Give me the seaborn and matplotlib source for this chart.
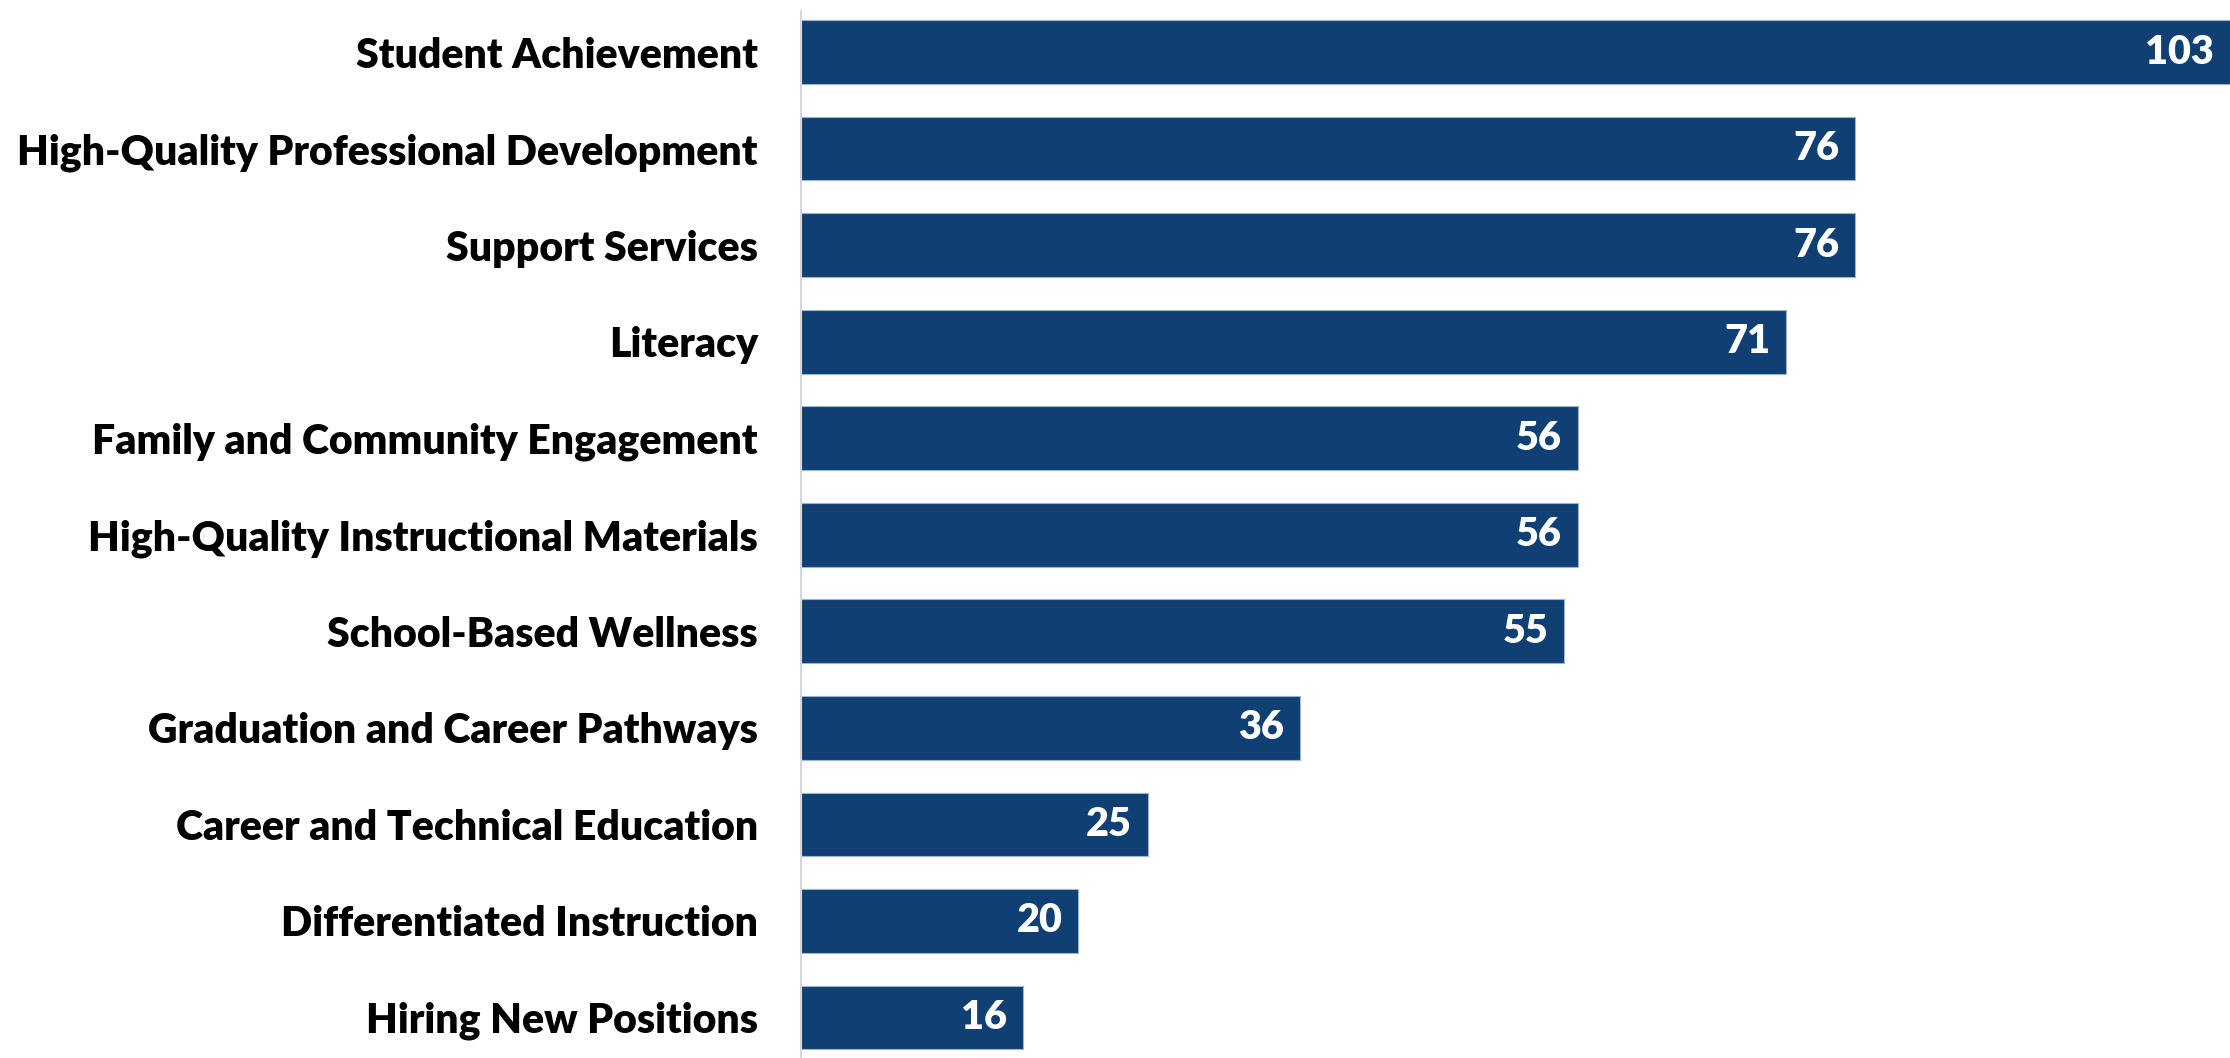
import pandas as pd
import matplotlib
matplotlib.use('Agg')
import matplotlib.pyplot as plt
import seaborn as sns

categories = [
    'Student Achievement',
    'High-Quality Professional Development',
    'Support Services',
    'Literacy',
    'Family and Community Engagement',
    'High-Quality Instructional Materials',
    'School-Based Wellness',
    'Graduation and Career Pathways',
    'Career and Technical Education',
    'Differentiated Instruction',
    'Hiring New Positions',
]
counts = [103, 76, 76, 71, 56, 56, 55, 36, 25, 20, 16]

BAR_COLOR = '#0f3f73'

df = pd.DataFrame({'category': categories, 'count': counts})

sns.set_theme(style='white')
plt.rcParams['font.family'] = ['Lato', 'DejaVu Sans']

fig = plt.figure(figsize=(22.3, 10.58), dpi=100)
ax = fig.add_axes([801 / 2230, 0, 1 - 801 / 2230, 1 - 11 / 1058])

sns.barplot(data=df, x='count', y='category', color=BAR_COLOR, saturation=1,
            width=0.66, edgecolor='#9fb2c8', linewidth=0.8, ax=ax)

ax.set_xlim(0, max(counts))
ax.set_ylim(10.42, -0.425)

# value labels sit inside the bar end, right aligned
labels = ax.bar_label(ax.containers[0], padding=-11.5, color='white',
                      fontsize=28.5, fontweight='heavy')
for t in labels:
    t.set_ha('right')

ax.set_xlabel('')
ax.set_ylabel('')
ax.set_xticks([])
ax.tick_params(axis='y', length=0, pad=31)
for lbl in ax.get_yticklabels():
    lbl.set_fontsize(29.5)
    lbl.set_fontweight('heavy')
    lbl.set_color('black')

for side in ['top', 'right', 'bottom']:
    ax.spines[side].set_visible(False)
ax.spines['left'].set_color('#d3d8df')
ax.spines['left'].set_linewidth(1.5)

fig.savefig('out.png', dpi=100)
plt.close(fig)
